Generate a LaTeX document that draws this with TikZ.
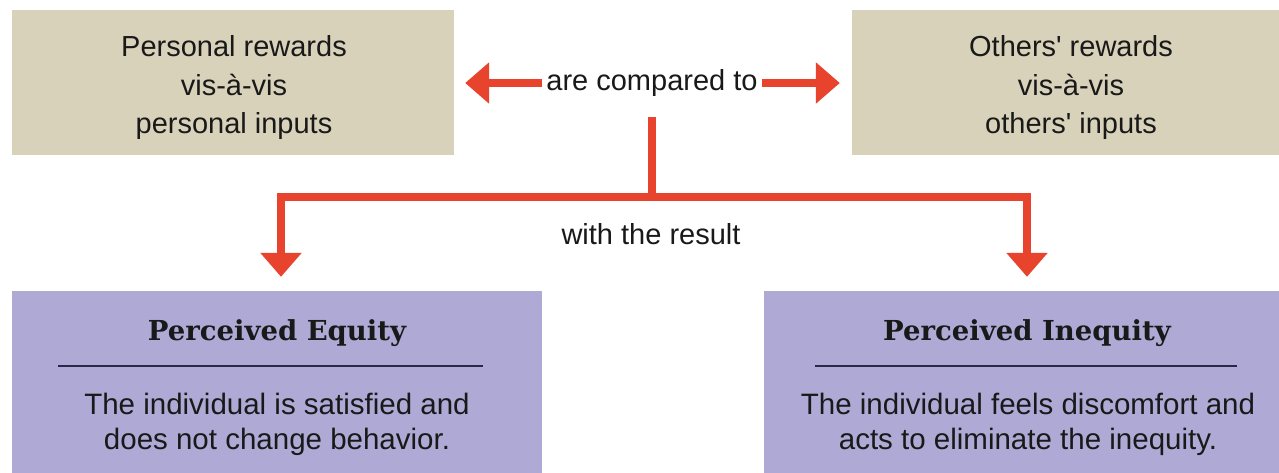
\documentclass[tikz,border=0pt]{standalone}
\usepackage{fontspec}
\setmainfont{Liberation Sans}[Ligatures=TeXOff]
\newfontfamily\titlefont{DejaVu Serif}
\usetikzlibrary{arrows.meta}
\definecolor{tanbox}{RGB}{216,210,186}
\definecolor{purplebox}{RGB}{174,169,213}
\definecolor{arrowred}{RGB}{232,67,45}
\definecolor{rulecol}{RGB}{40,40,70}
\tikzset{
  tanrect/.style={fill=tanbox, draw=none, rectangle, inner sep=0pt},
  purprect/.style={fill=purplebox, draw=none, rectangle, inner sep=0pt},
  bodytext/.style={align=center, inner sep=2pt, font=\fontsize{29}{38.5}\selectfont, text=black!90},
  restext/.style={align=center, inner sep=2pt, font=\fontsize{29.5}{35}\selectfont, text=black!90},
  titletext/.style={inner sep=2pt, font=\titlefont\bfseries\fontsize{27.5}{32}\selectfont, text=black!90},
  redline/.style={draw=arrowred, line width=8pt},
  redarrow/.style={redline, -{Triangle[width=40pt,length=24pt]}},
  titlerule/.style={draw=rulecol, line width=2.5pt}
}
\begin{document}
\begin{tikzpicture}[x=1pt,y=-1pt]
\useasboundingbox (0,0) rectangle (1279,473);
\fill[white] (0,0) rectangle (1279,473);
% top boxes
\node[tanrect, minimum width=442pt, minimum height=145pt] (pr) at (233,82.5) {};
\node[tanrect, minimum width=427pt, minimum height=145pt] (or) at (1065.5,82.5) {};
\node[bodytext] (prt) at (234,88) {Personal rewards\\vis-à-vis\\personal inputs};
\node[bodytext] (ort) at (1071,88) {Others' rewards\\vis-à-vis\\others' inputs};
% middle
\node[bodytext, inner sep=4pt] (cmp) at (652,83) {are compared to};
\coordinate (j) at (652,197);
\node[bodytext] (res) at (651,234) {with the result};
% bottom boxes
\node[purprect, minimum width=530pt, minimum height=182pt] (eq) at (277,382) {};
\node[purprect, minimum width=515pt, minimum height=182pt] (ineq) at (1021.5,382) {};
\node[titletext] (eqt) at (277,333) {Perceived Equity};
\node[titletext] (ineqt) at (1027,333) {Perceived Inequity};
\coordinate (eqr1) at (58,366);
\coordinate (eqr2) at (483,366);
\coordinate (inr1) at (815,366);
\coordinate (inr2) at (1237,366);
\draw[titlerule] (eqr1) -- (eqr2);
\draw[titlerule] (inr1) -- (inr2);
\node[restext] (eqb) at (277,424) {The individual is satisfied and\\does not change behavior.};
\node[restext] (ineqb) at (1028,424) {The individual feels discomfort and\\acts to eliminate the inequity.};
% connectors
\draw[redarrow, shorten >=11pt] (cmp.west) -- (pr.east |- cmp.west);
\draw[redarrow, shorten >=12pt] (cmp.east) -- (or.west |- cmp.east);
\draw[redline] (652,117) -- ([yshift=-4pt]j);
\draw[redarrow, shorten >=14pt] (j) -| ([xshift=4pt]eq.north);
\draw[redarrow, shorten >=14pt] (j) -| ([xshift=5.5pt]ineq.north);
\end{tikzpicture}
\end{document}
